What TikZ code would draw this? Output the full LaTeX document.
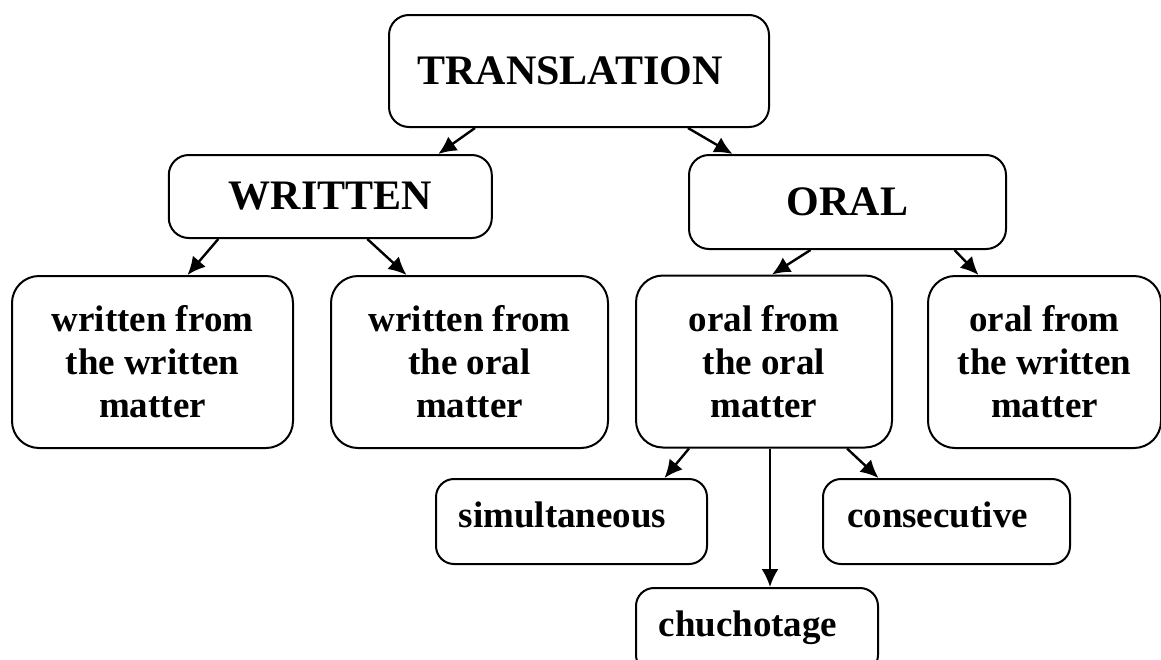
\documentclass[tikz,border=0pt]{standalone}
\usepackage{fontspec}
\setmainfont{Liberation Serif}
\usetikzlibrary{arrows.meta}
\tikzstyle{bigbox}=[rectangle,draw,line width=2pt,rounded corners=20pt,inner sep=0pt,font=\fontsize{42}{48}\selectfont\bfseries]
\tikzstyle{box}=[rectangle,draw,line width=2pt,rounded corners=27pt,inner sep=0pt,align=center,minimum height=172pt,font=\fontsize{37}{43}\selectfont\bfseries]
\tikzstyle{smallbox}=[rectangle,draw,line width=2pt,rounded corners=18pt,inner sep=0pt,minimum height=85pt,text height=25pt,text depth=14pt,font=\fontsize{37}{43}\selectfont\bfseries]
\tikzstyle{leftish}=[execute at end node=\hspace*{18pt}]
\tikzstyle{link}=[-{Latex[length=18pt,width=17pt]},line width=2.4pt]

\begin{document}
\begin{tikzpicture}[x=1pt,y=-1pt]
\useasboundingbox (0,0) rectangle (1161,659);
\node[bigbox,leftish,minimum width=380pt,minimum height=112pt] (translation) at (579,71) {TRANSLATION};
\node[bigbox,minimum width=323pt,minimum height=83pt] (written) at (330.3,196.5) {WRITTEN};
\node[bigbox,minimum width=317pt,minimum height=94pt] (oral) at (847.5,202) {ORAL};
\node[box,minimum width=281pt] (wfw) at (152.5,362) {written from\\the written\\matter};
\node[box,minimum width=277pt] (wfo) at (469.5,362) {written from\\the oral\\matter};
\node[box,minimum width=256pt] (ofo) at (764,361.5) {oral from\\the oral\\matter};
\node[box,minimum width=233pt] (ofw) at (1044.5,362) {oral from\\the written\\matter};
\node[smallbox,leftish,minimum width=271pt] (simul) at (571.5,521.5) {simultaneous};
\node[smallbox,leftish,minimum width=247pt] (consec) at (946.5,521.5) {consecutive};
\node[smallbox,leftish,minimum width=242pt] (chucho) at (757,630.5) {chuchotage};

\draw[link] ([xshift=-104pt]translation.south) -- ([xshift=108pt]written.north);
\draw[link] ([xshift=109pt]translation.south) -- ([xshift=-115pt]oral.north);
\draw[link] ([xshift=-112pt]written.south) -- ([xshift=35pt]wfw.north);
\draw[link] ([xshift=37pt]written.south) -- ([xshift=-63pt]wfo.north);
\draw[link] ([xshift=-37pt]oral.south) -- ([xshift=8pt]ofo.north);
\draw[link] ([xshift=107pt]oral.south) -- ([xshift=-66pt]ofw.north);
\draw[link] ([xshift=-75pt]ofo.south) -- ([xshift=93pt]simul.north);
\draw[link] ([xshift=6pt]ofo.south) -- ([xshift=13pt]chucho.north);
\draw[link] ([xshift=83pt]ofo.south) -- ([xshift=-68pt]consec.north);
\end{tikzpicture}
\end{document}
